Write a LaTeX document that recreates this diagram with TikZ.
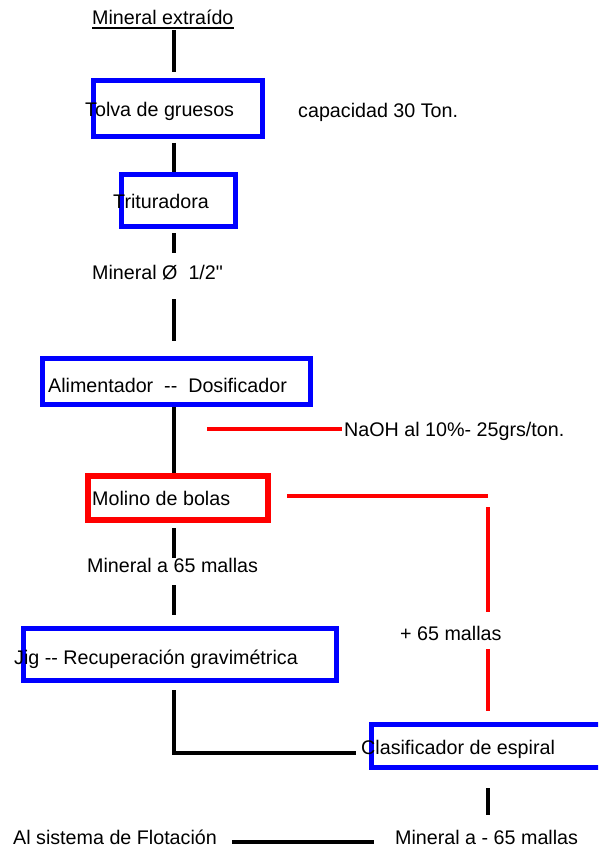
\documentclass[tikz,border=0pt]{standalone}
\usepackage{fontspec}
\setmainfont{Liberation Sans}

\begin{document}
\begin{tikzpicture}[x = 1pt, y = -1pt]
	\tikzstyle{labelStyle} = [inner sep = 0pt, anchor = base west, text height = 14pt, text depth = 4pt, font = \fontsize{19.7}{24}\selectfont]
	\tikzstyle{blueBoxStyle} = [shape = rectangle, draw = blue, line width = 5pt, inner sep = 0pt]
	\tikzstyle{redBoxStyle} = [shape = rectangle, draw = red, line width = 6pt, inner sep = 0pt]
	\tikzstyle{flowStyle} = [draw = black, line width = 4pt]
	\tikzstyle{feedStyle} = [draw = red, line width = 4pt]
	\useasboundingbox (0, 0) rectangle (598, 850);
	\clip (0, 0) rectangle (598, 850);
	\fill[white] (0, 0) rectangle (598, 850);
	% equipos
	\node[blueBoxStyle, minimum width = 169pt, minimum height = 56pt] (tolva) at (178, 108.5) {};
	\node[blueBoxStyle, minimum width = 114pt, minimum height = 52pt] (trituradora) at (178.5, 200.5) {};
	\node[blueBoxStyle, minimum width = 268pt, minimum height = 46pt] (alimentador) at (176.5, 381.5) {};
	\node[redBoxStyle, minimum width = 180pt, minimum height = 44pt] (molino) at (178, 498) {};
	\node[blueBoxStyle, minimum width = 313pt, minimum height = 52pt] (jig) at (180, 654.5) {};
	\node[blueBoxStyle, minimum width = 268.5pt, minimum height = 43pt] (clasificador) at (505.75, 746) {};
	% textos
	\node[labelStyle] (mineralExtraido) at (92, 25) {Mineral extraído};
	\node[labelStyle] (tolvaText) at (85, 117) {Tolva de gruesos};
	\node[labelStyle] (capacidad) at (298, 118) {capacidad 30 Ton.};
	\node[labelStyle] (trituradoraText) at (113, 209) {Trituradora};
	\node[labelStyle] (mineralMedia) at (92, 279) {Mineral Ø \ 1/2\textquotedbl};
	\node[labelStyle] (alimentadorText) at (48, 392) {Alimentador \ -{}- \ Dosificador};
	\node[labelStyle] (naoh) at (344, 436) {NaOH al 10\%- 25grs/ton.};
	\node[labelStyle] (molinoText) at (92, 505) {Molino de bolas};
	\node[labelStyle] (mineral65) at (87, 572) {Mineral a 65 mallas};
	\node[labelStyle] (mas65) at (400, 640) {+ 65 mallas};
	\node[labelStyle] (jigText) at (14, 664) {Jig -{}- Recuperación gravimétrica};
	\node[labelStyle] (clasificadorText) at (361, 754) {Clasificador de espiral};
	\node[labelStyle] (alSistema) at (13, 844) {Al sistema de Flotación};
	\node[labelStyle] (mineralMenos) at (395, 844) {Mineral a - 65 mallas};
	\draw[line width = 1.5pt] ([yshift = -3pt]mineralExtraido.base west) -- ([yshift = -3pt]mineralExtraido.base east);
	\coordinate (spine) at (174, 0);
	\coordinate (sideSpine) at (487.5, 0);
	\coordinate (naohStart) at (207, 429);
	\coordinate (retorno) at (487.5, 496);
	% flujo principal
	\draw[flowStyle, shorten <= 1pt, shorten >= 6pt] (spine |- mineralExtraido.south) -- (spine |- tolva.north);
	\draw[flowStyle, shorten <= 4pt] (spine |- tolva.south) -- (spine |- trituradora.north);
	\draw[flowStyle, shorten <= 4pt, shorten >= 12pt] (spine |- trituradora.south) -- (spine |- mineralMedia.north);
	\draw[flowStyle, shorten <= 16pt, shorten >= 15pt] (spine |- mineralMedia.south) -- (spine |- alimentador.north);
	\draw[flowStyle] (spine |- alimentador.south) -- (spine |- molino.north);
	\draw[flowStyle, shorten <= 5pt] (spine |- molino.south) -- (spine |- mineral65.north);
	\draw[flowStyle, shorten <= 9pt, shorten >= 11pt] (spine |- mineral65.south) -- (spine |- jig.north);
	\draw[flowStyle, shorten <= 7pt, shorten >= 13pt] (spine |- jig.south) |- ([yshift = -7pt]clasificador.west);
	\draw[flowStyle, shorten <= 18pt, shorten >= 15pt] (sideSpine |- clasificador.south) -- (sideSpine |- mineralMenos.north);
	\draw[flowStyle, shorten <= 15pt, shorten >= 21pt] ([yshift = 2pt]alSistema.base east) -- ([yshift = 2pt]mineralMenos.base west);
	% reactivo y retorno
	\draw[feedStyle, shorten >= 2pt] (naohStart) -- (naohStart -| naoh.west);
	\draw[feedStyle, shorten <= 16pt] (molino.east |- retorno) -- (retorno);
	\draw[feedStyle, shorten <= 11pt, shorten >= 14pt] (retorno) -- (retorno |- mas65.north);
	\draw[feedStyle, shorten <= 5pt, shorten >= 11pt] (retorno |- mas65.south) -- (retorno |- clasificador.north);
\end{tikzpicture}
\end{document}
